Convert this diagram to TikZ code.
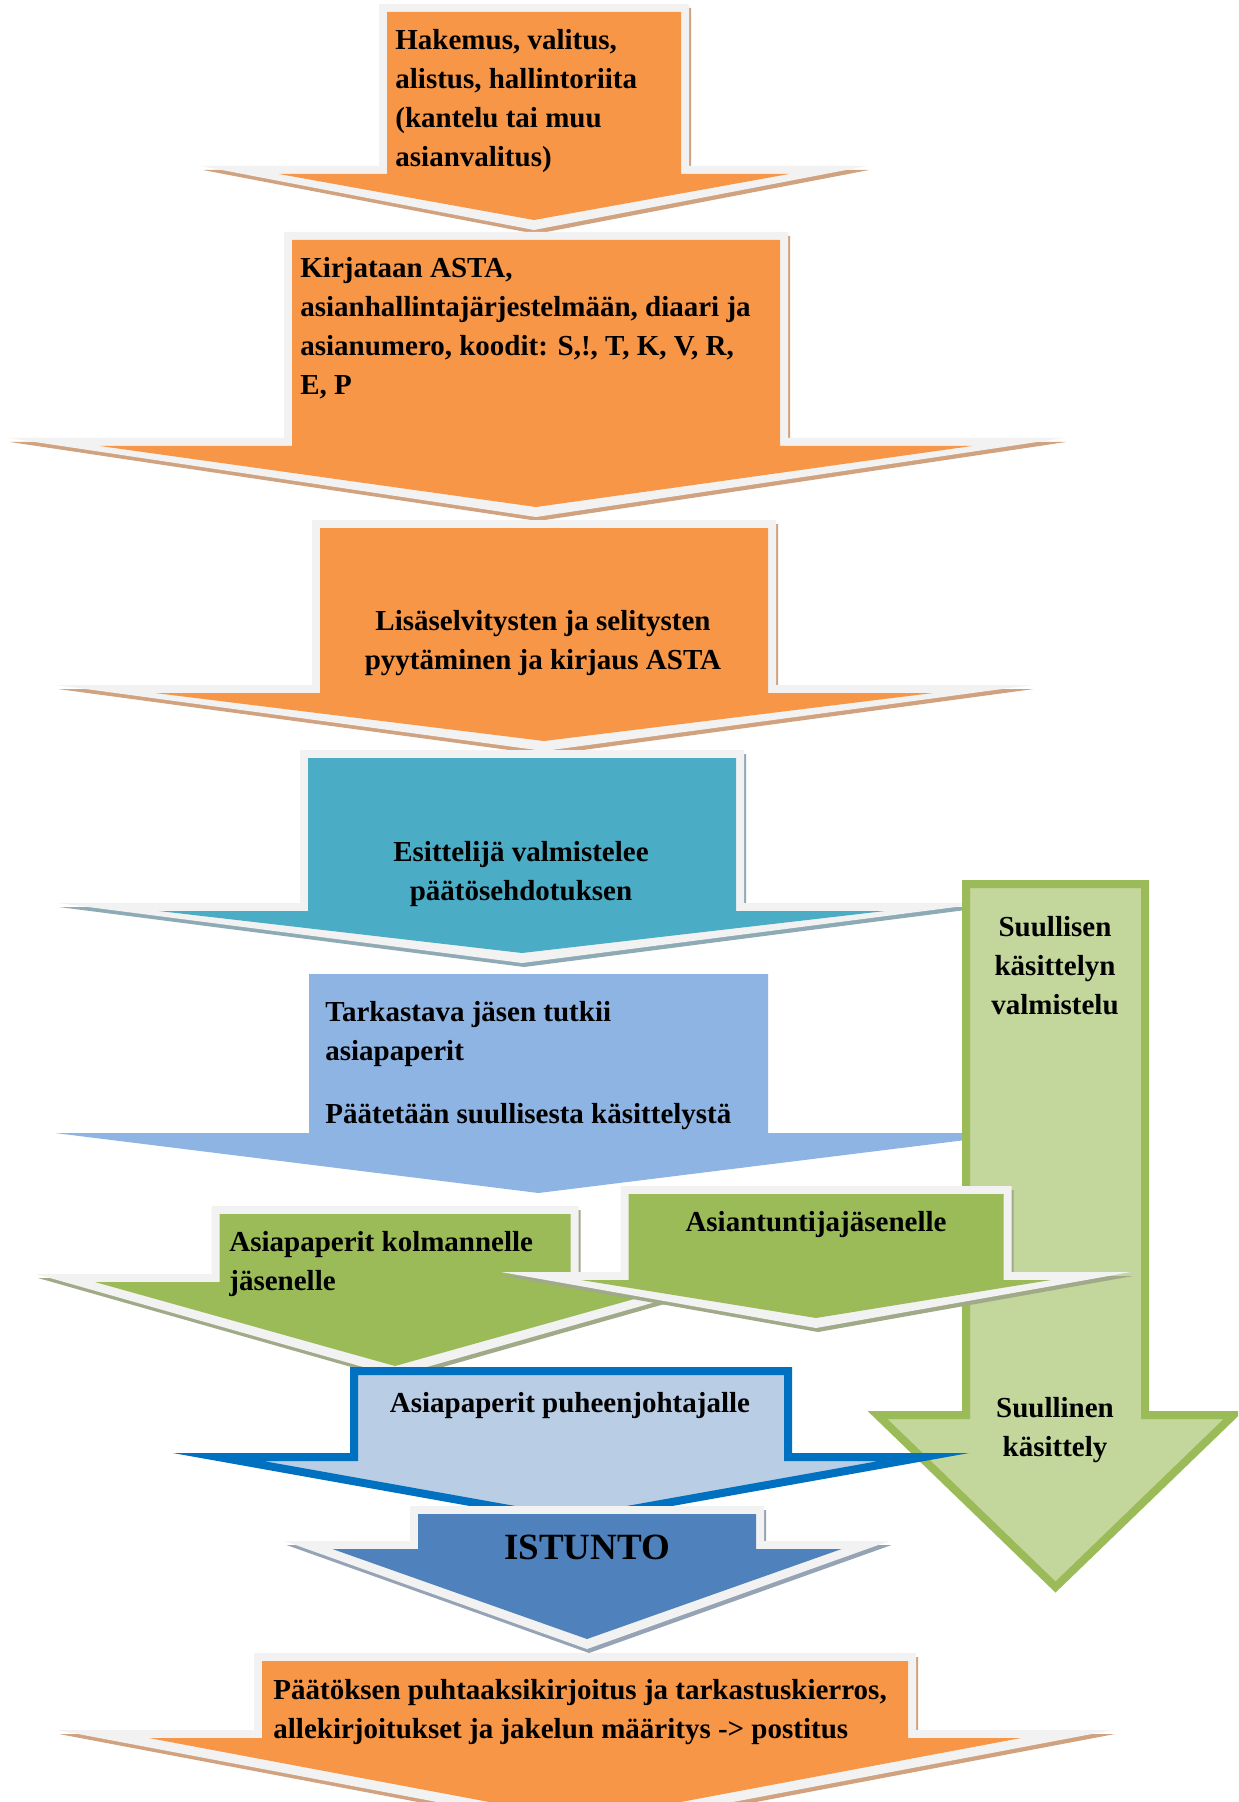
\documentclass[tikz,border=0pt]{standalone}
\usepackage{fontspec}
\setmainfont{Liberation Serif}
\usepackage{xcolor}
\usepackage{tikz}
\usetikzlibrary{positioning}

\definecolor{bevel}{HTML}{F2F2F2}
\definecolor{orangefill}{HTML}{F79646}
\definecolor{orangeshade}{HTML}{D0A27F}
\definecolor{tealfill}{HTML}{4BACC6}
\definecolor{tealshade}{HTML}{8EAAB5}
\definecolor{skyfill}{HTML}{8EB4E3}
\definecolor{greenfill}{HTML}{9BBB59}
\definecolor{greenshade}{HTML}{A0AA88}
\definecolor{palegreen}{HTML}{C3D69B}
\definecolor{chairborder}{HTML}{0070C0}
\definecolor{chairfill}{HTML}{B9CDE5}
\definecolor{sessionfill}{HTML}{4F81BD}
\definecolor{sessionshade}{HTML}{95A3B5}

\tikzset{
  boxtext/.style={font=\fontsize{14.5}{19.5}\selectfont\bfseries, inner sep=0pt},
}

% #1 centre, #2 shaft half width, #3 top, #4 head base, #5 head half width,
% #6 outer head half width, #7 tip, #8 fill, #9 shadow
\newcommand{\bevelarrow}[9]{%
  \fill[#9, shift={(2,4)}] ({#1-#2-8},{#3-8}) -- ({#1+#2+8},{#3-8}) -- ({#1+#2+8},{#4-8})
    -- ({#1+#6},{#4-8}) -- (#1,{#7+10}) -- ({#1-#6},{#4-8}) -- ({#1-#2-8},{#4-8}) -- cycle;
  \fill[bevel] ({#1-#2-8},{#3-8}) -- ({#1+#2+8},{#3-8}) -- ({#1+#2+8},{#4-8})
    -- ({#1+#6},{#4-8}) -- (#1,{#7+10}) -- ({#1-#6},{#4-8}) -- ({#1-#2-8},{#4-8}) -- cycle;
  \fill[#8] ({#1-#2},#3) -- ({#1+#2},#3) -- ({#1+#2},#4) -- ({#1+#5},#4)
    -- (#1,#7) -- ({#1-#5},#4) -- ({#1-#2},#4) -- cycle;
}

\begin{document}
\begin{tikzpicture}[x=0.5pt, y=-0.5pt, line join=miter, miter limit=25]
\useasboundingbox (0,0) rectangle (1238,1802);
\clip (0,0) rectangle (1238,1802);
\fill[white] (0,0) rectangle (1238,1802);

% main chain
\bevelarrow{534}{147}{12}{174}{255}{333}{220}{orangefill}{orangeshade}
\bevelarrow{536}{244}{240}{446}{436}{528}{507}{orangefill}{orangeshade}
\bevelarrow{544}{224}{528}{693}{389}{488}{741}{orangefill}{orangeshade}
\bevelarrow{522}{214}{758}{911}{363}{465}{953}{tealfill}{tealshade}
\fill[skyfill] (309,974) -- (768,974) -- (768,1133) -- (1022,1133)
  -- (538.5,1193) -- (55,1133) -- (309,1133) -- cycle;

% oral hearing branch
\draw[line width=4pt, draw=greenfill, fill=palegreen] (966,884) -- (1145,884) -- (1145,1415)
  -- (1233.5,1415) -- (1055.5,1587) -- (877.5,1415) -- (966,1415) -- cycle;

\bevelarrow{395}{175.5}{1214}{1282}{300}{359}{1366}{greenfill}{greenshade}
\bevelarrow{816}{187.5}{1194}{1280}{235}{315}{1318}{greenfill}{greenshade}
\draw[line width=4pt, draw=chairborder, fill=chairfill] (354,1371) -- (788,1371) -- (788,1457)
  -- (924,1457) -- (571,1520) -- (218,1457) -- (354,1457) -- cycle;
\bevelarrow{587}{169}{1514}{1549}{254.5}{302.5}{1639}{sessionfill}{sessionshade}
\bevelarrow{585}{323}{1661}{1738}{436}{528}{1820}{orangefill}{orangeshade}

% texts
\node[boxtext, align=left, anchor=west] (hakemus) at (395,101)
  {Hakemus, valitus,\\alistus, hallintoriita\\(kantelu tai muu\\asianvalitus)};
\node[boxtext, align=left, anchor=west] (kirjaus) at (300,328)
  {Kirjataan ASTA,\\asianhallintajärjestelmään, diaari ja\\asianumero, koodit: S,!, T, K, V, R,\\E, P};
\node[boxtext, align=center] (selvitys) at (543,643)
  {Lisäselvitysten ja selitysten\\pyytäminen ja kirjaus ASTA};
\node[boxtext, align=center] (esittely) at (521,874)
  {Esittelijä valmistelee\\päätösehdotuksen};
\node[boxtext, align=left, anchor=west] (tarkastus) at (325,1066)
  {Tarkastava jäsen tutkii\\asiapaperit\\[12pt]Päätetään suullisesta käsittelystä};
\node[boxtext, align=center] (valmistelu) at (1055,966)
  {Suullisen\\käsittelyn\\valmistelu};
\node[boxtext, align=center] (kasittely) at (1055,1430)
  {Suullinen\\käsittely};
\node[boxtext, align=left, anchor=west] (kolmas) at (229,1264)
  {Asiapaperit kolmannelle\\jäsenelle};
\node[boxtext] (asiantuntija) at (816,1225) {Asiantuntijajäsenelle};
\node[boxtext] (puheenjohtaja) at (570,1406) {Asiapaperit puheenjohtajalle};
\node[boxtext, font=\fontsize{18.5}{22}\selectfont\bfseries] (istunto) at (587,1547) {ISTUNTO};
\node[boxtext, align=left, anchor=west] (paatos) at (273,1712)
  {Päätöksen puhtaaksikirjoitus ja tarkastuskierros,\\allekirjoitukset ja jakelun määritys -> postitus};
\end{tikzpicture}
\end{document}
